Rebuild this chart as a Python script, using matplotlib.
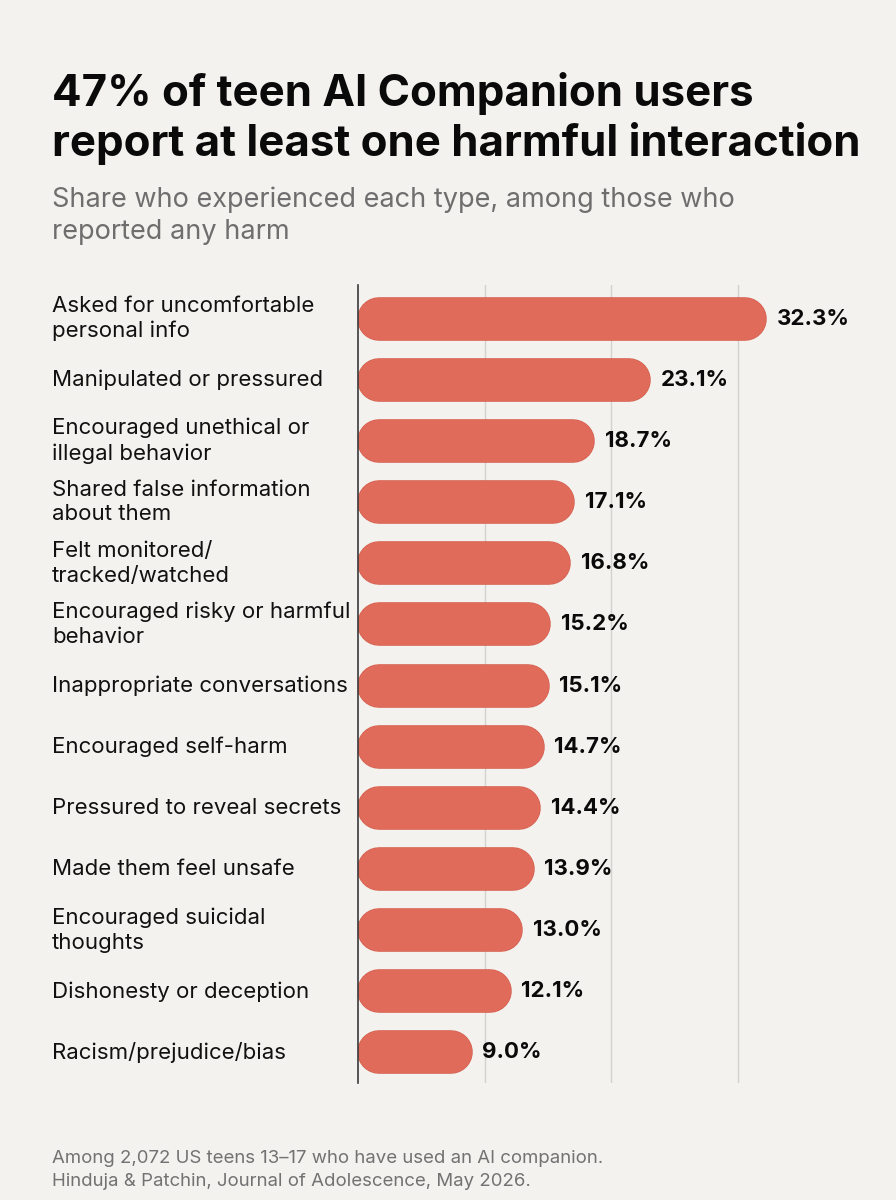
import matplotlib.pyplot as plt
import matplotlib.patheffects as pe
from matplotlib.transforms import blended_transform_factory

categories = [
    "Asked for uncomfortable\npersonal info",
    "Manipulated or pressured",
    "Encouraged unethical or\nillegal behavior",
    "Shared false information\nabout them",
    "Felt monitored/\ntracked/watched",
    "Encouraged risky or harmful\nbehavior",
    "Inappropriate conversations",
    "Encouraged self-harm",
    "Pressured to reveal secrets",
    "Made them feel unsafe",
    "Encouraged suicidal\nthoughts",
    "Dishonesty or deception",
    "Racism/prejudice/bias",
]
values = [32.3, 23.1, 18.7, 17.1, 16.8, 15.2, 15.1, 14.7, 14.4, 13.9, 13.0, 12.1, 9.0]
grid_ticks = [10, 20, 30]

title = "47% of teen AI Companion users\nreport at least one harmful interaction"
subtitle = "Share who experienced each type, among those who\nreported any harm"
footer = ("Among 2,072 US teens 13\u201317 who have used an AI companion.\n"
          "Hinduja & Patchin, Journal of Adolescence, May 2026.")

BG = "#f3f2ee"
BAR = "#e06b5b"
W, H = 896, 1200

plt.rcParams["font.family"] = ["Inter", "DejaVu Sans"]

fig = plt.figure(figsize=(W / 100, H / 100), dpi=100, facecolor=BG)

# axes box in pixels
ax_l, ax_r, ax_t, ax_b = 358, 864, 285, 1083
ax = fig.add_axes([ax_l / W, 1 - ax_b / H, (ax_r - ax_l) / W, (ax_b - ax_t) / H])
ax.set_facecolor(BG)
xmax = 40
n = len(values)
ax.set_xlim(0, xmax)
ax.set_ylim(n - 0.5, -0.55)

for g in grid_ticks:
    ax.axvline(g, color="#d3d2ce", lw=1.0, zorder=0)

for s in ["top", "right", "bottom"]:
    ax.spines[s].set_visible(False)
ax.spines["left"].set_color("#3a3a3a")
ax.spines["left"].set_linewidth(1.2)
ax.spines["left"].set_zorder(5)
ax.set_xticks([])
ax.set_yticks([])

# pixel per data unit -> pill bars drawn as thick round-capped lines
sx = (ax_r - ax_l) / xmax
sy = (ax_b - ax_t) / (n - 0.5 + 0.55)
bar_px = 0.69 * sy
r = bar_px / 2 / sx
lw_pt = bar_px * 72 / 100

for i, v in enumerate(values):
    ax.plot([r, v - r], [i, i], color=BAR, lw=lw_pt, solid_capstyle="round",
            zorder=3,
            path_effects=[pe.Stroke(linewidth=lw_pt + 1.0, foreground="#d5604f"),
                          pe.Normal()])
    ax.annotate(f"{v:.1f}%", (v, i), xytext=(7.5, 0), textcoords="offset points",
                ha="left", va="center", fontsize=16, fontweight="bold",
                color="#0a0a0a", zorder=4)

lab_tr = blended_transform_factory(fig.transFigure, ax.transData)
for i, c in enumerate(categories):
    ax.text(52 / W, i, c, transform=lab_tr, ha="left", va="center",
            fontsize=16, color="#111111", linespacing=1.3, clip_on=False)

fig.text(52 / W, 1 - 72 / H, title, ha="left", va="top", fontsize=31.5,
         fontweight="bold", color="#0a0a0a", linespacing=1.2)
fig.text(52 / W, 1 - 187 / H, subtitle, ha="left", va="top", fontsize=19.5,
         color="#6e6e6e", linespacing=1.28)
fig.text(52 / W, 1 - 1170 / H, footer, ha="left", va="center", fontsize=13.4,
         color="#727272", linespacing=1.45)

fig.savefig("out.png", dpi=100, facecolor=BG)
